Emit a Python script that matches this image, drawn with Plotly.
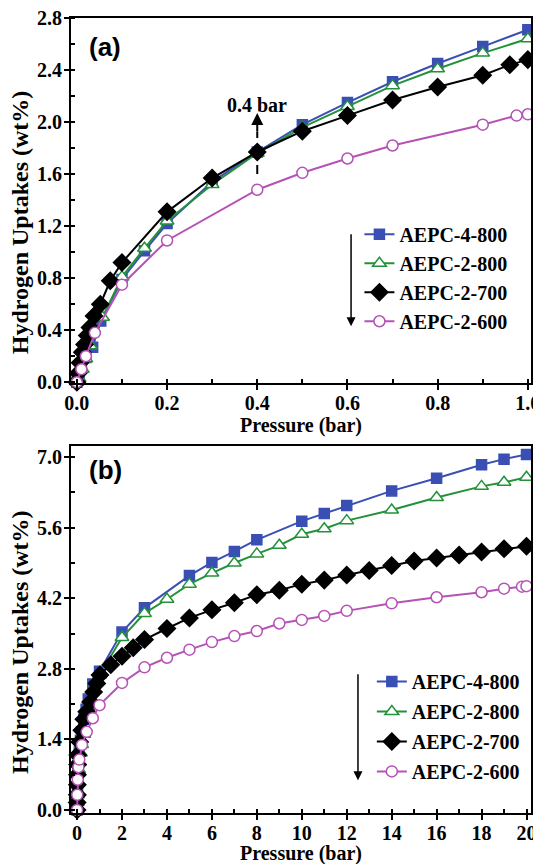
import plotly.graph_objects as go
from plotly.subplots import make_subplots

# (a) 0-1 bar isotherms
a_p_4_800 = [0, 0.005, 0.01, 0.02, 0.035, 0.053, 0.1, 0.15, 0.2, 0.3, 0.4, 0.5, 0.6, 0.7, 0.8, 0.9, 1.0]
a_h_4_800 = [0, 0.05, 0.11, 0.19, 0.27, 0.47, 0.79, 1.01, 1.22, 1.54, 1.77, 1.98, 2.15, 2.31, 2.45, 2.58, 2.71]
a_p_2_800 = [0, 0.005, 0.012, 0.02, 0.03, 0.057, 0.1, 0.15, 0.2, 0.3, 0.4, 0.5, 0.6, 0.7, 0.8, 0.9, 1.0]
a_h_2_800 = [0, 0.03, 0.1, 0.18, 0.28, 0.50, 0.81, 1.03, 1.24, 1.52, 1.76, 1.96, 2.12, 2.28, 2.41, 2.53, 2.64]
a_p_2_700 = [0, 0.003, 0.007, 0.012, 0.017, 0.023, 0.029, 0.038, 0.052, 0.074, 0.1, 0.2, 0.3, 0.4,
             0.5, 0.6, 0.7, 0.8, 0.9, 0.96, 1.0]
a_h_2_700 = [0, 0.07, 0.15, 0.23, 0.29, 0.36, 0.42, 0.51, 0.60, 0.78, 0.92, 1.31, 1.57, 1.77,
             1.93, 2.05, 2.17, 2.27, 2.36, 2.44, 2.48]
a_p_2_600 = [0, 0.01, 0.02, 0.04, 0.1, 0.2, 0.4, 0.5, 0.6, 0.7, 0.9, 0.975, 1.0]
a_h_2_600 = [0, 0.1, 0.2, 0.38, 0.75, 1.09, 1.48, 1.61, 1.72, 1.82, 1.98, 2.05, 2.06]

# (b) 0-20 bar isotherms
b_p_4_800 = [0, 0.01, 0.02, 0.04, 0.07, 0.1, 0.15, 0.2, 0.3, 0.4, 0.5, 0.7, 1.0,
             2, 3, 5, 6, 7, 8, 10, 11, 12, 14, 16, 18, 19, 20]
b_h_4_800 = [0, 0.2, 0.4, 0.7, 0.95, 1.15, 1.38, 1.55, 1.8, 2.0, 2.2, 2.5, 2.75,
             3.53, 4.01, 4.65, 4.91, 5.13, 5.36, 5.73, 5.88, 6.04, 6.33, 6.58, 6.85, 6.96, 7.05]
b_p_2_800 = [0, 0.01, 0.02, 0.04, 0.07, 0.1, 0.15, 0.2, 0.3, 0.5, 0.7, 1.0,
             2, 3, 4, 5, 6, 7, 8, 9, 10, 11, 12, 14, 16, 18, 19, 20]
b_h_2_800 = [0, 0.15, 0.3, 0.55, 0.8, 0.95, 1.13, 1.3, 1.5, 2.05, 2.4, 2.68,
             3.42, 3.9, 4.18, 4.48, 4.7, 4.9, 5.08, 5.25, 5.47, 5.58, 5.74, 5.95, 6.2, 6.42, 6.5, 6.6]
b_p_2_700 = [0, 0.005, 0.01, 0.015, 0.02, 0.025, 0.03, 0.12, 0.21, 0.3, 0.43, 0.6, 0.74, 0.88, 1.02,
             1.5, 2.0, 2.5, 3, 4, 5, 6, 7, 8, 9, 10, 11, 12, 13, 14, 15, 16, 17, 18, 19, 20]
b_h_2_700 = [0, 0.15, 0.3, 0.5, 0.7, 0.9, 1.09, 1.35, 1.58, 1.8, 1.95, 2.14, 2.34, 2.51, 2.68,
             2.88, 3.05, 3.22, 3.38, 3.6, 3.81, 3.97, 4.11, 4.27, 4.36, 4.48, 4.56, 4.66, 4.75,
             4.85, 4.94, 5.0, 5.06, 5.12, 5.18, 5.23]
b_p_2_600 = [0, 0.01, 0.03, 0.06, 0.1, 0.22, 0.43, 0.7, 1, 2, 3, 4, 5, 6, 7, 8, 9, 10, 11, 12,
             14, 16, 18, 19, 19.8, 20]
b_h_2_600 = [0, 0.3, 0.6, 0.85, 1.0, 1.29, 1.55, 1.82, 2.08, 2.52, 2.83, 3.02, 3.18, 3.33, 3.45,
             3.55, 3.70, 3.77, 3.85, 3.95, 4.1, 4.22, 4.32, 4.39, 4.43, 4.44]

SERIF = "Liberation Serif"
BLUE = "#3a4fb4"
GREEN = "#23913a"
PINK = "#b552b5"

styles = {
    "AEPC-4-800": dict(color=BLUE, symbol="square", size=10, fill=BLUE),
    "AEPC-2-800": dict(color=GREEN, symbol="triangle-up", size=12, fill="white"),
    "AEPC-2-700": dict(color="black", symbol="diamond", size=13, fill="black"),
    "AEPC-2-600": dict(color=PINK, symbol="circle", size=11, fill="white"),
}

panel_a = [("AEPC-4-800", a_p_4_800, a_h_4_800), ("AEPC-2-800", a_p_2_800, a_h_2_800),
           ("AEPC-2-700", a_p_2_700, a_h_2_700), ("AEPC-2-600", a_p_2_600, a_h_2_600)]
panel_b = [("AEPC-4-800", b_p_4_800, b_h_4_800), ("AEPC-2-800", b_p_2_800, b_h_2_800),
           ("AEPC-2-700", b_p_2_700, b_h_2_700), ("AEPC-2-600", b_p_2_600, b_h_2_600)]

fig = make_subplots(rows=2, cols=1)

for row, panel, leg in [(1, panel_a, "legend"), (2, panel_b, "legend2")]:
    for name, p, h in panel:
        s = styles[name]
        fig.add_trace(go.Scatter(
            x=p, y=h, name=name, mode="lines+markers", legend=leg, legendgroup=name + leg,
            cliponaxis=False,
            line=dict(color=s["color"], width=2),
            marker=dict(symbol=s["symbol"], size=s["size"], color=s["fill"],
                        line=dict(color=s["color"], width=1.5)),
        ), row=row, col=1)

tickfont = dict(family=SERIF, size=20, color="black", weight="bold")
titlefont = dict(family=SERIF, size=20, color="black", weight="bold")
axis_common = dict(showline=True, linewidth=2, linecolor="black", mirror=True,
                   ticks="outside", ticklen=5, tickwidth=2, tickcolor="black",
                   showgrid=False, zeroline=False, tickfont=tickfont, automargin=False,
                   ticklabeloverflow="allow")

fig.update_xaxes(**axis_common, row=1, col=1, range=[-0.013, 1.007], dtick=0.2, tick0=0,
                 tickformat=".1f", ticklabelstandoff=-4,
                 minor=dict(ticks="inside", dtick=0.1, ticklen=4, tickwidth=2, tickcolor="black"))
fig.update_yaxes(**axis_common, row=1, col=1, range=[-0.005, 2.8], dtick=0.4, tick0=0,
                 tickformat=".1f", ticklabelstandoff=-2,
                 minor=dict(ticks="inside", dtick=0.2, ticklen=4, tickwidth=2, tickcolor="black"))
fig.update_xaxes(**axis_common, row=2, col=1, range=[-0.27, 20.2], dtick=2, tick0=0,
                 ticklabelstandoff=-4,
                 minor=dict(ticks="inside", dtick=1, ticklen=4, tickwidth=2, tickcolor="black"))
fig.update_yaxes(**axis_common, row=2, col=1, range=[-0.06, 7.22], dtick=1.4, tick0=0,
                 tickformat=".1f", ticklabelstandoff=-2,
                 minor=dict(ticks="inside", dtick=0.7, ticklen=4, tickwidth=2, tickcolor="black"))

# page body adds an 8px margin, so the figure is sized and padded to land the
# plot areas where the reference has them
legfont = dict(family=SERIF, size=20, color="black", weight="bold")
fig.update_layout(
    width=533, height=856,
    margin=dict(l=63, r=10, t=10, b=51),
    paper_bgcolor="white", plot_bgcolor="white",
    xaxis=dict(domain=[0, 1]), xaxis2=dict(domain=[0, 1]),
    yaxis=dict(domain=[0.541, 1.0]), yaxis2=dict(domain=[0.0, 0.4616]),
    legend=dict(x=0.627, y=0.7525, xanchor="left", yanchor="top", font=legfont,
                bgcolor="rgba(0,0,0,0)", tracegroupgap=0, itemwidth=30),
    legend2=dict(x=0.654, y=0.19, xanchor="left", yanchor="top", font=legfont,
                 bgcolor="rgba(0,0,0,0)", tracegroupgap=1, itemwidth=30),
    showlegend=True,
)

# axis titles
for yc in [0.487, -0.0505]:
    fig.add_annotation(text="Pressure (bar)", xref="paper", yref="paper", x=0.5, y=yc,
                       xanchor="center", yanchor="middle", showarrow=False, font=titlefont)
for yc in [0.743, 0.215]:
    fig.add_annotation(text="Hydrogen Uptakes (wt%)", xref="paper", yref="paper", x=-0.111, y=yc,
                       xanchor="center", yanchor="middle", textangle=-90, showarrow=False,
                       font=dict(titlefont, size=24))

panel_label = dict(family="Liberation Sans", size=26, color="black", weight="bold")
fig.add_annotation(text="(a)", xref="x domain", yref="y domain", x=0.035, y=0.92,
                   xanchor="left", yanchor="middle", showarrow=False, font=panel_label)
fig.add_annotation(text="(b)", xref="x2 domain", yref="y2 domain", x=0.035, y=0.935,
                   xanchor="left", yanchor="middle", showarrow=False, font=panel_label)

# 0.4 bar marker
fig.add_shape(type="line", xref="x", yref="y", x0=0.4, x1=0.4, y0=1.6, y1=1.93,
              line=dict(color="black", width=2, dash="dash"))
fig.add_annotation(xref="x", yref="y", x=0.4, y=2.07, ax=0.4, ay=1.92, axref="x", ayref="y",
                   text="", showarrow=True, arrowhead=2, arrowsize=1.2, arrowwidth=2,
                   arrowcolor="black")
fig.add_annotation(xref="x", yref="y", x=0.4, y=2.13, text="0.4 bar", showarrow=False,
                   font=dict(family=SERIF, size=20, color="black", weight="bold"))

# ordering arrows beside legends
fig.add_annotation(xref="x", yref="y", x=0.608, y=0.43, ax=0.608, ay=1.15, axref="x", ayref="y",
                   text="", showarrow=True, arrowhead=2, arrowsize=1.2, arrowwidth=1.5,
                   arrowcolor="black")
fig.add_annotation(xref="x2", yref="y2", x=12.5, y=0.59, ax=12.5, ay=2.72, axref="x2", ayref="y2",
                   text="", showarrow=True, arrowhead=2, arrowsize=1.2, arrowwidth=1.5,
                   arrowcolor="black")

fig.write_html("out.html")
